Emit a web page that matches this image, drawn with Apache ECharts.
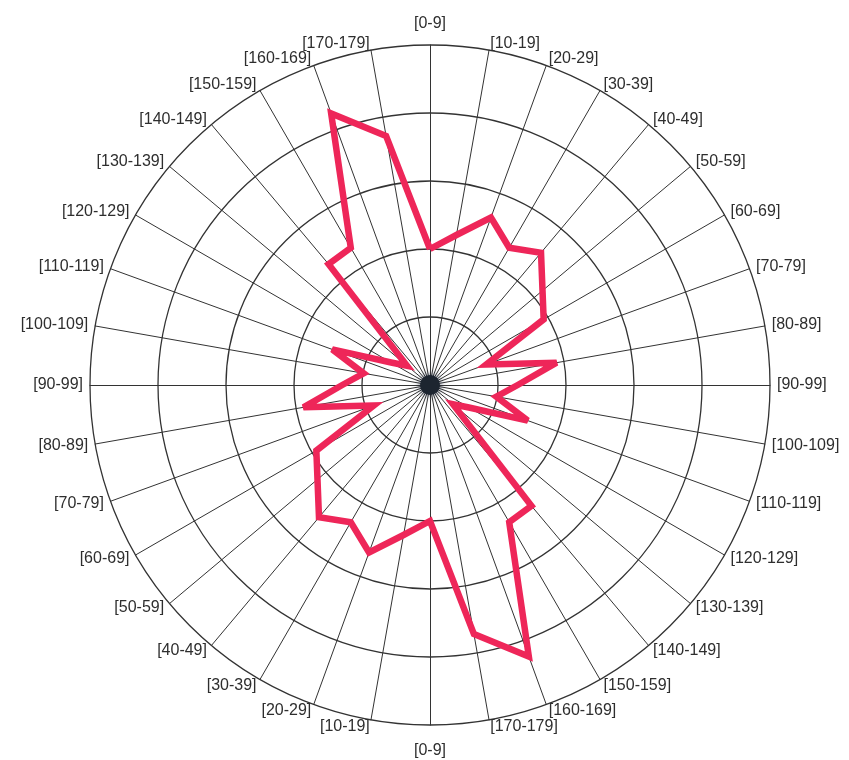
<!DOCTYPE html>
<html>
<head>
<meta charset="utf-8">
<script src="https://cdn.jsdelivr.net/npm/echarts@6/dist/echarts.min.js"></script>
<style>
html,body{margin:0;padding:0;background:#fff;}
#chart{width:849px;height:760px;}
</style>
</head>
<body>
<div id="chart"></div>
<script>
// Spoke labels, clockwise starting at the top
var binLabels = [
  '[0-9]','[10-19]','[20-29]','[30-39]','[40-49]','[50-59]','[60-69]','[70-79]','[80-89]',
  '[90-99]','[100-109]','[110-119]','[120-129]','[130-139]','[140-149]','[150-159]','[160-169]','[170-179]',
  '[0-9]','[10-19]','[20-29]','[30-39]','[40-49]','[50-59]','[60-69]','[70-79]','[80-89]',
  '[90-99]','[100-109]','[110-119]','[120-129]','[130-139]','[140-149]','[150-159]','[160-169]','[170-179]'
];
// Values, clockwise starting at the top (same order as binLabels)
var values = [
  2.00, 2.24, 2.62, 2.33, 2.54, 2.16, 1.93, 0.88, 1.89,
  1.29, 0.99, 1.53, 0.66, 0.44, 2.32, 2.33, 4.25, 3.72,
  2.00, 2.24, 2.62, 2.33, 2.54, 2.16, 1.93, 0.88, 1.89,
  1.29, 0.99, 1.53, 0.66, 0.44, 2.32, 2.33, 4.25, 3.72
];
var axisMax = 5;
var ringCount = 5;

// ECharts radar places indicators counter-clockwise; reorder so labels run clockwise
var n = binLabels.length;
var indicator = [];
var seriesValues = [];
for (var j = 0; j < n; j++) {
  var k = (n - j) % n;
  indicator.push({ name: binLabels[k], max: axisMax, min: 0 });
  seriesValues.push(values[k]);
}

var chart = echarts.init(document.getElementById('chart'), null, { renderer: 'canvas' });
chart.setOption({
  backgroundColor: '#ffffff',
  animation: false,
  radar: {
    center: [430, 385],
    radius: 340,
    startAngle: 90,
    shape: 'circle',
    splitNumber: ringCount,
    indicator: indicator,
    axisName: {
      color: '#2e2e2e',
      fontSize: 16,
      fontFamily: 'Liberation Sans, Arial, sans-serif',
      formatter: function (name) {
        return name === '[0-9]' ? '{pole|' + name + '}' : name;
      },
      rich: {
        pole: {
          color: '#2e2e2e',
          fontSize: 16,
          fontFamily: 'Liberation Sans, Arial, sans-serif',
          padding: [11, 0, 6, 0]
        }
      }
    },
    nameGap: 7,
    axisLine: { show: true, lineStyle: { color: '#333', width: 1 } },
    splitLine: { show: true, lineStyle: { color: '#333', width: 1.3 } },
    splitArea: { show: false },
    axisTick: { show: false },
    axisLabel: { show: false }
  },
  series: [{
    type: 'radar',
    symbol: 'none',
    lineStyle: { color: '#EE2659', width: 6.5, join: 'miter', miterLimit: 4 },
    data: [{ value: seriesValues }]
  }],
  graphic: [{
    type: 'circle',
    shape: { cx: 430, cy: 385, r: 10 },
    style: { fill: '#1d2530', shadowBlur: 6, shadowColor: 'rgba(30,40,60,0.8)' },
    z: 100
  }]
});
</script>
</body>
</html>
